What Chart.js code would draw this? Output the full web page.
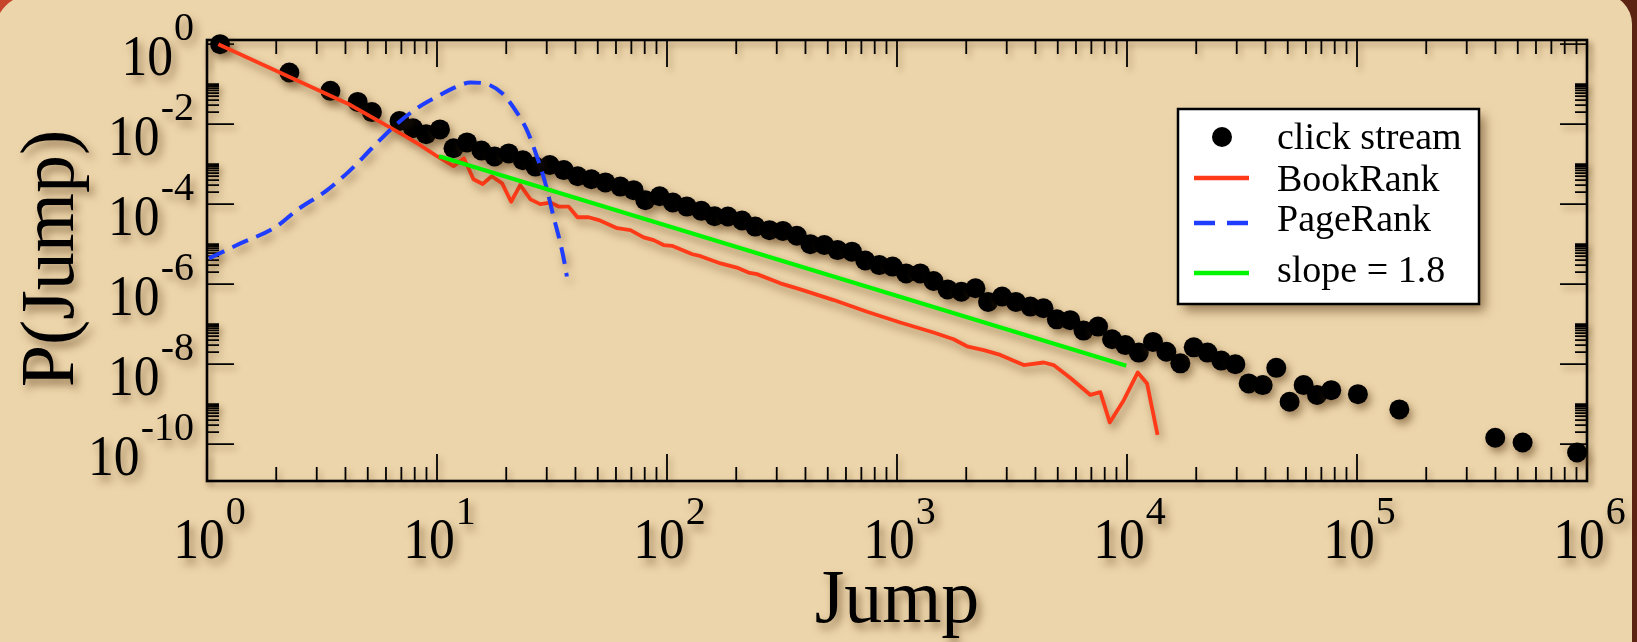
<!DOCTYPE html>
<html lang="en">
<head>
<meta charset="UTF-8">
<title>P(Jump)</title>
<style>
html, body {
    margin: 0;
    padding: 0;
    width: 1637px;
    height: 642px;
    overflow: hidden;
    background: linear-gradient(90deg, #c6452b 0%, #93361f 55%, #5c2313 100%);
}
#slide {
    position: absolute;
    left: -6px;
    top: -6px;
    width: 1638px;
    height: 700px;
    background: #edd5ab;
    border-radius: 40px 30px 0 0;
}
#chart {
    position: absolute;
    left: 0;
    top: 0;
}
</style>
<script src="https://cdn.jsdelivr.net/npm/chart.js"></script>
</head>
<body>
<div id="slide"></div>
<canvas id="chart" width="1637" height="642"></canvas>
<script>
// series names (legend order)
const seriesNames = ['click stream', 'BookRank', 'PageRank', 'slope = 1.8'];

// click stream (log-binned jumps)
const clickX = [1.14, 2.28, 3.44, 4.52, 5.21, 6.87, 7.87, 8.97, 10.3, 11.8, 13.5, 15.6, 17.8, 20.5, 23.6, 26.8,
    30.9, 35.6, 40.9, 46.9, 54.0, 62.7, 71.6, 80.5, 92.9, 106, 122, 141, 161, 184, 212, 242, 279, 319, 367,
    420, 483, 552, 637, 728, 838, 957, 1096, 1262, 1442, 1660, 1905, 2193, 2489, 2864, 3289, 3802, 4335,
    4955, 5662, 6471, 7482, 8610, 9840, 11250, 12970, 14830, 17060, 19500, 22390, 25700, 29580, 33810,
    38900, 44570, 50930, 58610, 66990, 77270, 100900, 152800, 399000, 524800, 905700];
const clickY = [1.0, 1.95e-1, 6.8e-2, 3.6e-2, 2.0e-2, 1.2e-2, 7.9e-3, 5.6e-3, 7.4e-3, 2.5e-3, 3.5e-3, 2.2e-3,
    1.55e-3, 1.86e-3, 1.26e-3, 8.7e-4, 9.5e-4, 7.1e-4, 5.0e-4, 4.2e-4, 3.5e-4, 2.75e-4, 2.24e-4, 1.26e-4,
    1.58e-4, 1.10e-4, 8.7e-5, 6.8e-5, 5.0e-5, 4.9e-5, 3.9e-5, 2.75e-5, 2.24e-5, 2.14e-5, 1.62e-5, 1.0e-5,
    9.5e-6, 7.1e-6, 6.5e-6, 3.9e-6, 3.0e-6, 2.75e-6, 1.86e-6, 1.86e-6, 1.20e-6, 7.4e-7, 6.5e-7, 7.9e-7,
    3.6e-7, 4.9e-7, 3.6e-7, 2.75e-7, 2.5e-7, 1.32e-7, 1.26e-7, 6.9e-8, 8.7e-8, 4.2e-8, 3.0e-8, 1.95e-8,
    3.6e-8, 2.04e-8, 1.05e-8, 2.63e-8, 1.95e-8, 1.23e-8, 1.0e-8, 3.3e-9, 3.0e-9, 8.1e-9, 1.15e-9, 3.0e-9,
    1.70e-9, 2.24e-9, 1.78e-9, 7.4e-10, 1.45e-10, 1.10e-10, 6.2e-11];

// BookRank
const bookX = [1.12, 4.21, 7.28, 8.45, 10, 11.8, 13.1, 14.4, 15.8, 17.3, 19.2, 21.0, 23.0, 25.5, 28.1, 31.1,
    33.8, 37.3, 40.8, 45.6, 50.5, 60.7, 69.3, 79.1, 87.5, 96.6, 105, 129, 140, 171, 201, 226, 246, 311, 380,
    531, 741, 1033, 1442, 1762, 2014, 2382, 2812, 3556, 4345, 4797, 5675, 6934, 7656, 8414, 9683, 11140,
    12220, 13580];
const bookY = [1.0, 3.0e-2, 5.0e-3, 3.0e-3, 1.58e-3, 8.9e-4, 1.41e-3, 4.2e-4, 3.2e-4, 5.0e-4, 3.3e-4, 1.15e-4,
    3.0e-4, 1.32e-4, 1.0e-4, 1.10e-4, 8.7e-5, 8.7e-5, 4.7e-5, 4.7e-5, 4.0e-5, 2.5e-5, 2.24e-5, 1.48e-5,
    1.26e-5, 9.5e-6, 9.1e-6, 5.6e-6, 5.0e-6, 3.3e-6, 2.6e-6, 1.95e-6, 1.78e-6, 1.05e-6, 7.4e-7, 4.0e-7,
    2.04e-7, 1.10e-7, 6.2e-8, 4.2e-8, 2.8e-8, 2.24e-8, 1.70e-8, 9.5e-9, 1.10e-8, 9.5e-9, 4.5e-9, 1.70e-9,
    2.0e-9, 3.5e-10, 1.26e-9, 6.2e-9, 3.3e-9, 1.70e-10];

// PageRank
const pageX = [1.02, 1.35, 2.01, 2.46, 3.33, 4.20, 5.21, 6.49, 8.18, 10.0, 12.2, 14.0, 16.0, 19.2, 21.9, 24.6,
    27.2, 29.6, 32.1, 34.4, 36.1, 36.7];
const pageY = [4.4e-6, 9.5e-6, 2.8e-5, 7.1e-5, 2.24e-4, 7.1e-4, 2.5e-3, 8.7e-3, 2.5e-2, 4.9e-2, 8.7e-2,
    1.10e-1, 1.05e-1, 5.9e-2, 2.24e-2, 7.1e-3, 1.55e-3, 3.3e-4, 4.9e-5, 1.05e-5, 2.75e-6, 1.55e-6];

// fitted power law
const slopeX = [10.2, 9930];
const slopeY = [1.58e-3, 9.1e-9];

// axis tick exponents
const xTickExp = [0, 1, 2, 3, 4, 5, 6];
const yTickExp = [0, -2, -4, -6, -8, -10];

const pts = (xs, ys) => xs.map((x, i) => ({ x: x, y: ys[i] }));

const SERIF = '"Liberation Serif", "Times New Roman", serif';

function shade(ctx, blur, dx, dy, a) {
    ctx.shadowColor = 'rgba(85, 55, 20, ' + a + ')';
    ctx.shadowBlur = blur;
    ctx.shadowOffsetX = dx;
    ctx.shadowOffsetY = dy;
}

// "10" with a superscript exponent
function powLabel(ctx, exp, x, yBase, yExp, align) {
    ctx.font = '58px ' + SERIF;
    const w10 = ctx.measureText('10').width * 0.89;
    ctx.font = '40px ' + SERIF;
    const txt = String(exp);
    const we = ctx.measureText(txt).width;
    let start;
    if (align === 'right') start = x - we - w10 - 1;
    else start = x - (w10 + we) / 2 + 2;
    ctx.save();
    ctx.translate(start, yBase);
    ctx.scale(0.89, 1);
    ctx.font = '58px ' + SERIF;
    ctx.fillText('10', 0, 0);
    ctx.restore();
    ctx.font = '40px ' + SERIF;
    ctx.fillText(txt, start + w10 + 1, yExp);
}

const framePlugin = {
    id: 'frame',
    beforeDatasetsDraw(chart) {
        const ctx = chart.ctx;
        const xs = chart.scales.x, ys = chart.scales.y;
        const { left, right, top, bottom } = chart.chartArea;
        ctx.save();
        ctx.fillStyle = '#000';
        ctx.strokeStyle = '#000';
        ctx.textAlign = 'left';
        ctx.textBaseline = 'alphabetic';

        // ticks
        shade(ctx, 6, 3, 4, 0.45);
        ctx.lineWidth = 1.8;
        ctx.beginPath();
        for (let e = 0; e < 6; e++) {
            for (let k = 2; k <= 9; k++) {
                const px = xs.getPixelForValue(k * Math.pow(10, e));
                ctx.moveTo(px, bottom); ctx.lineTo(px, bottom - 14);
                ctx.moveTo(px, top); ctx.lineTo(px, top + 14);
            }
        }
        xTickExp.forEach(e => {
            const px = xs.getPixelForValue(Math.pow(10, e));
            ctx.moveTo(px, bottom); ctx.lineTo(px, bottom - 27);
            ctx.moveTo(px, top); ctx.lineTo(px, top + 27);
        });
        yTickExp.forEach(e => {
            const py = ys.getPixelForValue(Math.pow(10, e));
            ctx.moveTo(left, py); ctx.lineTo(left + 27, py);
            ctx.moveTo(right, py); ctx.lineTo(right - 27, py);
            for (let k = 2; k <= 10; k++) {
                const v = k * Math.pow(10, e);
                if (v > ys.max) continue;
                const p = ys.getPixelForValue(v);
                ctx.moveTo(left, p); ctx.lineTo(left + 12, p);
                ctx.moveTo(right, p); ctx.lineTo(right - 12, p);
            }
        });
        ctx.stroke();

        // frame
        ctx.lineWidth = 2.6;
        ctx.strokeRect(left, top, right - left, bottom - top);

        // tick labels
        shade(ctx, 8, 4, 6, 0.55);
        xTickExp.forEach(e => {
            const px = xs.getPixelForValue(Math.pow(10, e));
            powLabel(ctx, e, px, bottom + 77, bottom + 43, 'center');
        });
        yTickExp.forEach(e => {
            const py = ys.getPixelForValue(Math.pow(10, e));
            powLabel(ctx, e, left - 13, py + 31, py - 4, 'right');
        });

        // axis titles
        ctx.font = '76px ' + SERIF;
        ctx.textAlign = 'center';
        ctx.fillText('Jump', (left + right) / 2 - 0, 622);
        ctx.save();
        ctx.translate(73, (top + bottom) / 2 - 2);
        ctx.rotate(-Math.PI / 2);
        ctx.fillText('P(Jump)', 0, 0);
        ctx.restore();
        ctx.restore();

        // shadow for the data marks
        ctx.save();
        shade(ctx, 8, 3, 5, 0.55);
    },
    afterDatasetsDraw(chart) {
        const ctx = chart.ctx;
        ctx.restore();

        // legend
        const ds = chart.data.datasets;
        const bx = 1178, by = 109, bw = 301, bh = 195;
        ctx.save();
        shade(ctx, 10, 6, 7, 0.55);
        ctx.fillStyle = '#fff';
        ctx.fillRect(bx, by, bw, bh);
        ctx.shadowColor = 'transparent';
        ctx.strokeStyle = '#000';
        ctx.lineWidth = 2.5;
        ctx.strokeRect(bx, by, bw, bh);

        const rows = [137, 178, 223, 273];
        const baselines = [149, 191, 231, 282];
        ds.forEach((d, i) => {
            const y = rows[i];
            if (d.showLine === false) {
                ctx.fillStyle = d.pointBackgroundColor;
                ctx.beginPath();
                ctx.arc(1222, y, 10, 0, Math.PI * 2);
                ctx.fill();
            } else {
                ctx.strokeStyle = d.borderColor;
                ctx.lineWidth = d.borderWidth + 0.5;
                ctx.setLineDash(d.borderDash ? [21, 12] : []);
                ctx.beginPath();
                ctx.moveTo(1194, y);
                ctx.lineTo(1249, y);
                ctx.stroke();
                ctx.setLineDash([]);
            }
            ctx.fillStyle = '#000';
            ctx.font = '38px ' + SERIF;
            ctx.textAlign = 'left';
            ctx.fillText(d.label, 1277, baselines[i]);
        });
        ctx.restore();
    }
};

new Chart(document.getElementById('chart'), {
    type: 'scatter',
    data: {
        datasets: [
            {
                label: seriesNames[0],
                data: pts(clickX, clickY),
                showLine: false,
                pointRadius: 10,
                pointBackgroundColor: '#000',
                pointBorderWidth: 0,
                order: 5,
                clip: false
            },
            {
                label: seriesNames[1],
                data: pts(bookX, bookY),
                showLine: true,
                borderColor: '#ff3a18',
                borderWidth: 3.8,
                borderJoinStyle: 'round',
                pointRadius: 0,
                order: 2,
                clip: false
            },
            {
                label: seriesNames[2],
                data: pts(pageX, pageY),
                showLine: true,
                borderColor: '#1e3dff',
                borderWidth: 4,
                borderDash: [17, 9],
                cubicInterpolationMode: 'monotone',
                pointRadius: 0,
                order: 1,
                clip: false
            },
            {
                label: seriesNames[3],
                data: pts(slopeX, slopeY),
                showLine: true,
                borderColor: '#00f500',
                borderWidth: 4.2,
                pointRadius: 0,
                order: 0,
                clip: false
            }
        ]
    },
    options: {
        responsive: false,
        animation: false,
        devicePixelRatio: 1,
        events: [],
        layout: { padding: { left: 207, right: 50, top: 40, bottom: 161 } },
        scales: {
            x: { type: 'logarithmic', min: 1, max: 1e6, display: false, bounds: 'data' },
            y: { type: 'logarithmic', min: 1.2e-11, max: 1.27, display: false, bounds: 'data' }
        },
        plugins: {
            legend: { display: false },
            tooltip: { enabled: false }
        }
    },
    plugins: [framePlugin]
});
</script>
</body>
</html>
